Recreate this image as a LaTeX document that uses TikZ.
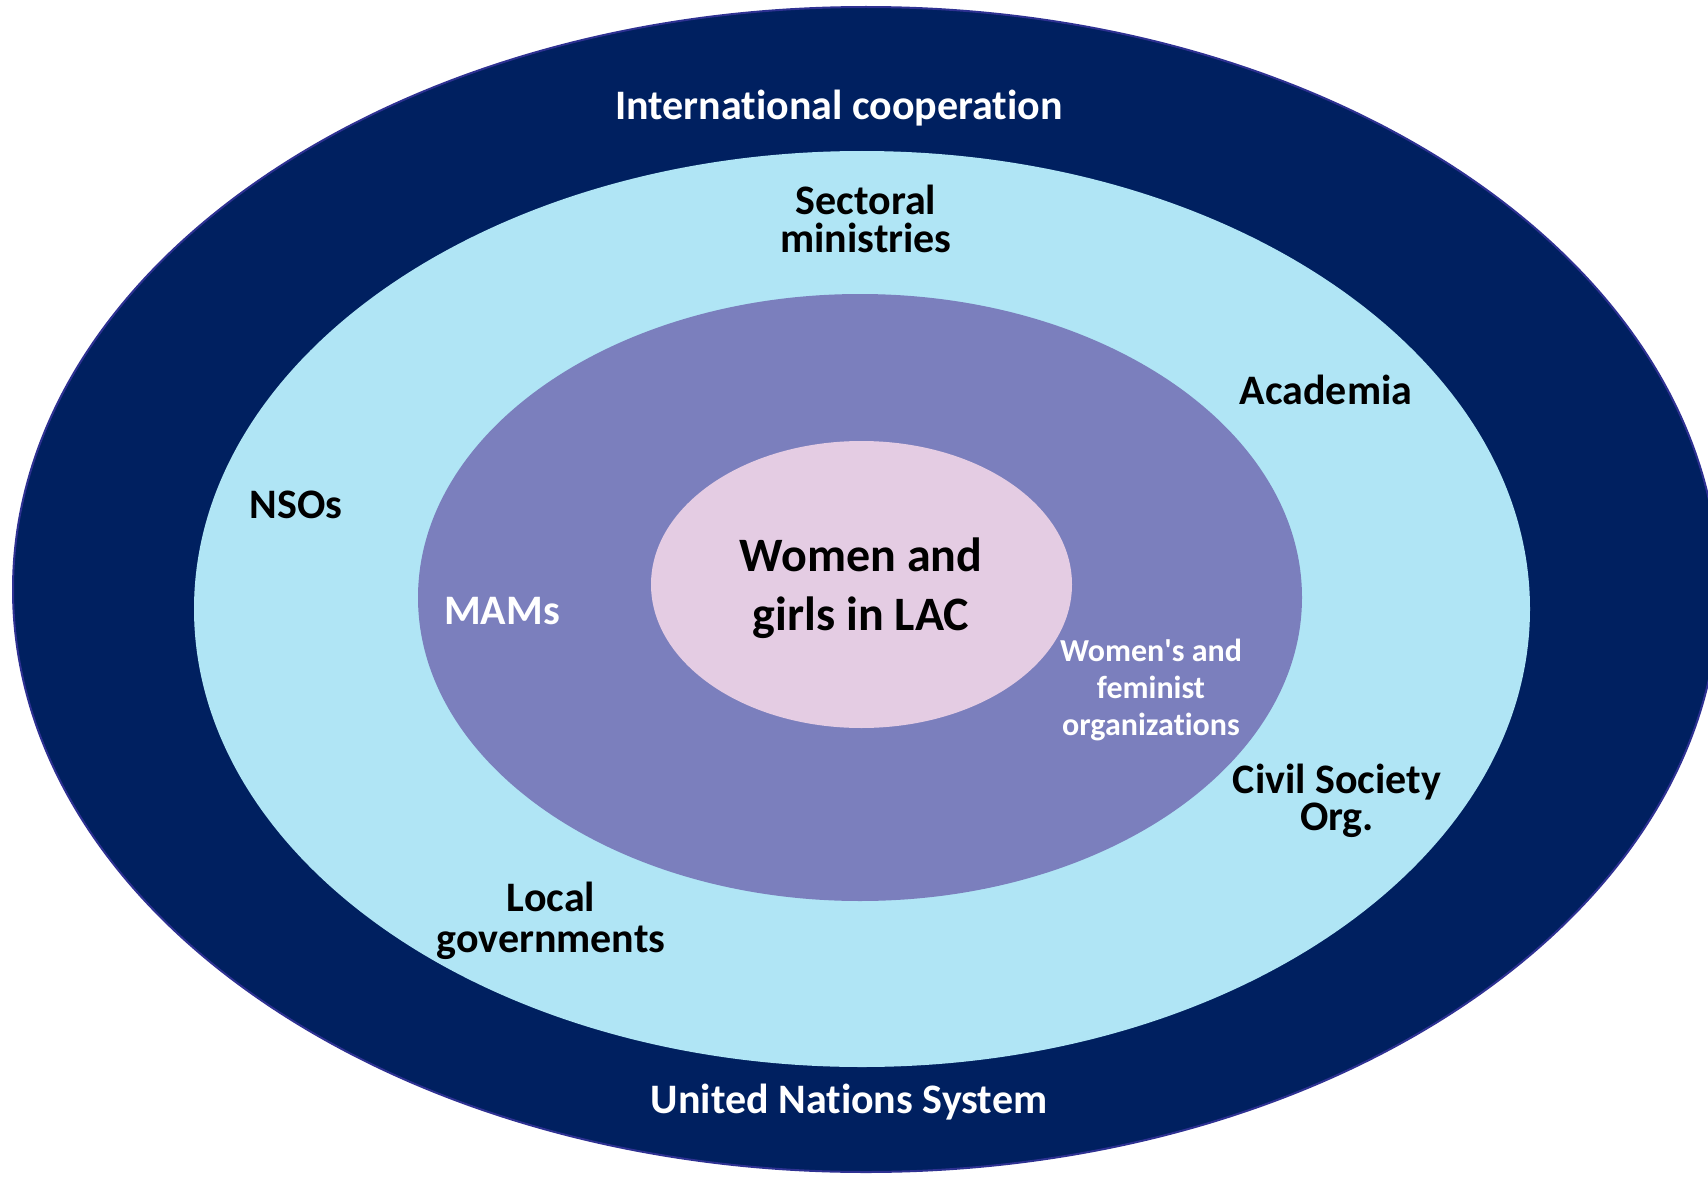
\documentclass[tikz,border=0pt]{standalone}
\usepackage{fontspec}
\setmainfont[Ligatures={NoCommon}]{Carlito}
\usepackage{xcolor}
\definecolor{navy}{HTML}{002060}
\definecolor{navyedge}{HTML}{2E3192}
\definecolor{skyring}{HTML}{B0E5F5}
\definecolor{lilacring}{HTML}{7B7FBD}
\definecolor{pinkcore}{HTML}{E4CCE3}
\tikzset{
  ringlabel/.style={align=center, inner sep=0.75pt, font=\bfseries\fontsize{21}{19}\selectfont},
  whitelabel/.style={ringlabel, text=white},
}

\begin{document}
\begin{tikzpicture}[x=0.5pt,y=0.5pt,yscale=-1,xscale=1]
\useasboundingbox (0,0) rectangle (1708,1177);

%Shape: Ellipse [outer ring]
\draw [color=navyedge, fill=navy, line width=1pt] (866,589.5) ellipse (853 and 582.5);
%Shape: Ellipse [second ring]
\draw [draw=none, fill=skyring] (862,609) ellipse (668 and 458);
%Shape: Ellipse [third ring]
\draw [draw=none, fill=lilacring] (860,597.5) ellipse (442 and 303.5);
%Shape: Ellipse [core]
\draw [draw=none, fill=pinkcore] (861.5,584.5) ellipse (210.5 and 143.5);

% Text Node
\draw (839,108) node (intl) [whitelabel] {International cooperation};
% Text Node
\draw (849,1102) node (uns) [whitelabel] {United Nations System};
% Text Node
\draw (866,219) node (sect) [ringlabel] {Sectoral\\ministries};
% Text Node
\draw (1326,390) node (acad) [ringlabel] {Academia};
% Text Node
\draw (296,505) node (nsos) [ringlabel] {NSOs};
% Text Node
\draw (1337,801) node (civil) [ringlabel, font=\bfseries\fontsize{21}{18.5}\selectfont] {Civil Society\\Org.};
% Text Node
\draw (551,921) node (local) [ringlabel, font=\bfseries\fontsize{21}{20.5}\selectfont] {Local\\governments};
% Text Node
\draw (502,611) node (mams) [whitelabel] {MAMs};
% Text Node
\draw (861,588) node (core) [ringlabel, font=\bfseries\fontsize{24}{29.5}\selectfont] {Women and\\girls in LAC};
% Text Node
\draw (1151,690) node (femorg) [whitelabel, font=\bfseries\fontsize{16}{18.5}\selectfont] {Women\textquotesingle s and\\feminist\\organizations};

\end{tikzpicture}
\end{document}
